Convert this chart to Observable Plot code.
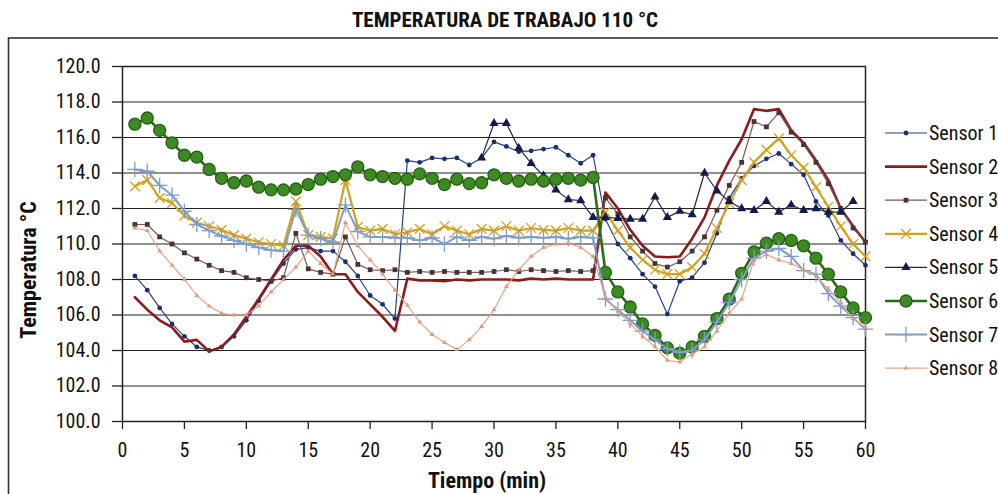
<!DOCTYPE html>
<html><head><meta charset="utf-8">
<script src="https://cdn.jsdelivr.net/npm/d3@7"></script>
<script src="https://cdn.jsdelivr.net/npm/@observablehq/plot@0.6"></script>
<style>html,body{margin:0;padding:0;background:#fff;} #chart{width:998px;height:494px;overflow:hidden;}</style>
</head><body><div id="chart"></div>
<script>
// ---------- DATA ----------
const minutes = d3.range(1, 61);
const xTicks = [0, 5, 10, 15, 20, 25, 30, 35, 40, 45, 50, 55, 60];
const yTicks = [100, 102, 104, 106, 108, 110, 112, 114, 116, 118, 120];
const seriesNames = ["Sensor 1","Sensor 2","Sensor 3","Sensor 4","Sensor 5","Sensor 6","Sensor 7","Sensor 8"];
const titleText = "TEMPERATURA DE TRABAJO 110 °C";
const yTitle = "Temperatura °C";
const xTitle = "Tiempo (min)";

const sensor1 = [108.2,107.4,106.4,105.5,104.8,104.2,104.0,104.2,104.8,105.7,106.8,107.9,108.9,109.7,109.8,109.6,109.6,109.0,108.2,107.1,106.6,105.8,114.7,114.6,114.85,114.8,114.85,114.45,114.85,115.75,115.5,115.2,115.25,115.35,115.45,115.0,114.55,115.0,111.4,110.0,109.2,108.3,107.6,106.05,107.9,108.1,108.95,110.6,112.6,113.7,114.4,114.8,115.1,114.5,113.9,112.4,111.6,110.2,109.45,108.8];
const sensor2 = [107.0,106.3,105.7,105.3,104.5,104.6,103.95,104.2,104.9,105.9,106.9,108.0,109.1,109.9,109.9,109.3,108.3,108.3,107.3,106.6,105.9,105.1,108.05,107.95,107.95,107.9,108.0,107.95,108.0,108.0,108.0,107.95,108.05,108.0,108.05,108.0,108.0,108.0,112.9,112.0,110.8,109.9,109.3,109.25,109.3,110.3,111.5,113.3,114.7,115.9,117.6,117.5,117.6,116.4,115.7,114.7,113.6,112.0,111.0,110.1];
const sensor3 = [111.1,111.1,110.4,110.0,109.5,109.15,108.8,108.5,108.4,108.1,108.0,107.9,108.1,110.6,108.6,108.4,108.3,110.4,108.85,108.55,108.5,108.55,108.4,108.45,108.4,108.45,108.4,108.4,108.4,108.45,108.55,108.45,108.55,108.5,108.45,108.5,108.45,108.5,112.6,111.7,110.4,109.6,108.9,108.7,109.0,109.6,110.4,111.9,113.3,114.6,116.9,116.6,117.4,116.3,115.6,114.6,113.4,112.0,110.9,110.1];
const sensor4 = [113.25,113.6,112.6,112.3,111.6,111.2,111.0,110.8,110.5,110.3,110.1,110.0,109.9,112.4,110.5,110.4,110.3,113.6,110.95,110.75,110.85,110.55,110.65,110.85,110.55,111.0,110.75,110.55,110.85,110.75,111.0,110.75,110.9,110.8,110.75,110.9,110.75,110.75,111.8,110.75,109.8,109.1,108.55,108.3,108.3,108.7,109.45,110.9,112.3,113.6,114.6,115.3,115.95,115.0,114.3,113.2,112.1,111.0,110.0,109.3];
const sensor5 = [null,null,null,null,null,null,null,null,null,null,null,null,null,null,null,null,null,null,null,null,null,null,null,null,null,null,null,null,114.85,116.8,116.8,115.4,114.55,113.85,113.05,112.5,112.45,111.5,111.5,111.45,111.4,111.4,112.65,111.5,111.85,111.65,114.0,113.0,112.4,112.0,111.9,112.4,111.8,112.2,111.9,112.0,111.8,111.8,112.4,null];
const sensor6 = [116.75,117.1,116.4,115.7,115.0,114.9,114.2,113.7,113.45,113.55,113.2,113.05,113.05,113.1,113.35,113.65,113.8,113.9,114.35,113.9,113.8,113.7,113.65,113.95,113.7,113.35,113.65,113.4,113.45,113.9,113.7,113.55,113.65,113.55,113.65,113.7,113.6,113.75,108.4,107.3,106.45,105.5,104.85,104.15,103.85,104.2,104.8,105.8,106.9,108.35,109.55,110.05,110.3,110.2,109.9,109.2,108.3,107.3,106.4,105.85];
const sensor7 = [114.2,114.1,113.3,112.75,111.85,111.1,110.75,110.45,110.2,110.0,109.8,109.65,109.6,111.95,110.5,110.3,110.1,112.2,110.7,110.4,110.4,110.35,110.35,110.2,110.35,110.0,110.4,110.2,110.4,110.3,110.45,110.35,110.4,110.35,110.4,110.3,110.4,110.35,106.9,106.3,105.7,105.1,104.6,104.1,103.9,104.0,104.6,105.6,106.7,108.0,109.2,109.6,109.75,109.3,108.5,108.3,107.2,106.5,105.85,105.2];
const sensor8 = [110.9,110.75,109.6,108.8,108.0,107.1,106.5,106.1,106.0,106.0,106.5,107.3,108.0,108.7,109.6,108.9,108.3,111.2,109.9,109.1,108.3,107.4,106.55,105.6,104.9,104.45,104.05,104.6,105.35,106.3,107.6,108.55,109.3,109.8,110.0,110.05,109.8,109.3,107.0,106.2,105.5,104.8,104.2,103.45,103.35,103.8,104.2,105.1,106.1,106.9,109.1,109.4,109.1,108.9,108.55,108.2,107.45,106.7,105.8,105.3];
const seriesValues = [sensor1, sensor2, sensor3, sensor4, sensor5, sensor6, sensor7, sensor8];

// ---------- STYLE ----------
const FONT = "'Roboto Condensed', 'Liberation Sans Narrow', 'Arial Narrow', sans-serif";
const FS = 20;

const styles = [
  {color:"#24408E", width:1.2, symbol:"circle",   r:2.4, fill:"#1B2F70", stroke:"none"},
  {color:"#8C1C1C", width:2.6, symbol:null},
  {color:"#7A5656", width:1.2, symbol:"square",   r:2.7, fill:"#4A3333", stroke:"none"},
  {color:"#D2A21E", width:2.2, symbol:"times",    r:4.5, fill:"none", stroke:"#D2A21E"},
  {color:"#1E2255", width:1.2, symbol:"triangle", r:3.4, fill:"#141A4A", stroke:"none"},
  {color:"#2B6A17", width:2.6, symbol:"circle",   r:6,   fill:"#3E8A22", stroke:"#275F14"},
  {color:"#7D9DCC", width:2.0, symbol:"plus",     r:5,   fill:"none", stroke:"#7D9DCC"},
  {color:"#E9A483", width:1.2, symbol:"triangle", r:1.8, fill:"#E2967A", stroke:"none"}
];

const rows = [];
seriesNames.forEach((name, i) => seriesValues[i].forEach((v, j) => {
  if (v != null) rows.push({sensor: name, t: minutes[j], v});
}));

const seriesMarks = [];
seriesNames.forEach((name, i) => {
  const st = styles[i];
  const data = rows.filter(d => d.sensor === name);
  seriesMarks.push(Plot.line(data, {x: "t", y: "v", stroke: st.color, strokeWidth: st.width}));
  if (st.symbol) seriesMarks.push(Plot.dot(data, {x: "t", y: "v", symbol: st.symbol, r: st.r, fill: st.fill, stroke: st.stroke, strokeWidth: 1.3}));
});

const chart = Plot.plot({
  width: 998, height: 494,
  marginLeft: 122, marginRight: 133, marginTop: 66, marginBottom: 73,
  x: {domain: [0, 60]},
  y: {domain: [100, 120]},
  style: {fontFamily: FONT, fontSize: FS + "px", color: "#111", background: "white", overflow: "visible"},
  marks: [
    Plot.gridY(yTicks, {stroke: "#222", strokeOpacity: 1, strokeWidth: 1.2}),
    Plot.frame({stroke: "#222", strokeWidth: 1.5}),
    Plot.axisY(yTicks, {tickSize: 10, tickPadding: 12, tickFormat: d => d.toFixed(1), label: null, stroke: "#222", strokeWidth: 1.3}),
    Plot.axisX(xTicks, {tickSize: 8, tickPadding: 13, label: null, stroke: "#222", strokeWidth: 1.3}),
    ...seriesMarks
  ]
});
document.getElementById("chart").appendChild(chart);

// ---------- Decorations ----------
const svg = d3.select(chart);
svg.append("rect").attr("x", 8.5).attr("y", 38).attr("width", 1100).attr("height", 600)
  .attr("fill", "none").attr("stroke", "#333").attr("stroke-width", 1.6);

svg.append("text").text(titleText)
  .attr("x", 505).attr("y", 20).attr("text-anchor", "middle").attr("dominant-baseline", "central")
  .attr("font-family", FONT).attr("font-weight", "bold").attr("font-size", 21).attr("fill", "#111");

svg.append("text").text(yTitle)
  .attr("transform", "translate(28,270) rotate(-90)").attr("text-anchor", "middle").attr("dominant-baseline", "central")
  .attr("font-family", FONT).attr("font-weight", "bold").attr("font-size", 22).attr("fill", "#111");

svg.append("text").text(xTitle)
  .attr("x", 487).attr("y", 480).attr("text-anchor", "middle").attr("dominant-baseline", "central")
  .attr("font-family", FONT).attr("font-weight", "bold").attr("font-size", 22).attr("fill", "#111");

const symMap = {circle: d3.symbolCircle, square: d3.symbolSquare, times: d3.symbolTimes, triangle: d3.symbolTriangle, plus: d3.symbolPlus};
const lg = svg.append("g").attr("font-family", FONT).attr("font-size", FS).attr("text-anchor", "start");
seriesNames.forEach((name, i) => {
  const st = styles[i];
  const y = 133 + i * 33.6;
  lg.append("line").attr("x1", 885).attr("x2", 927).attr("y1", y).attr("y2", y)
    .attr("stroke", st.color).attr("stroke-width", st.width);
  if (st.symbol) {
    lg.append("path").attr("transform", `translate(906,${y})`)
      .attr("d", d3.symbol(symMap[st.symbol], Math.PI * st.r * st.r)())
      .attr("fill", st.fill).attr("stroke", st.stroke).attr("stroke-width", 1.3);
  }
  lg.append("text").text(name).attr("x", 929).attr("y", y).attr("dominant-baseline", "central").attr("text-anchor", "start").attr("fill", "#111");
});
</script></body></html>
